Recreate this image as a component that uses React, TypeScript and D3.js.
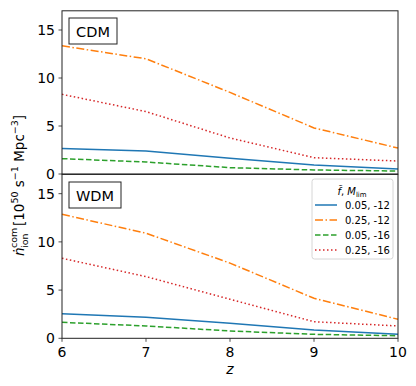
import React from "react";
import * as d3 from "d3";

const zs = [6, 7, 8, 9, 10];
const cdm_005_12 = [2.65, 2.4, 1.63, 0.94, 0.52];
const cdm_025_12 = [13.35, 12.0, 8.5, 4.8, 2.7];
const cdm_005_16 = [1.6, 1.25, 0.66, 0.42, 0.31];
const cdm_025_16 = [8.3, 6.5, 3.75, 1.7, 1.35];
const wdm_005_12 = [2.55, 2.18, 1.55, 0.86, 0.41];
const wdm_025_12 = [12.86, 10.9, 7.8, 4.15, 1.97];
const wdm_005_16 = [1.66, 1.28, 0.76, 0.41, 0.27];
const wdm_025_16 = [8.3, 6.4, 4.05, 1.72, 1.28];
const seriesLabels = ["0.05, -12", "0.25, -12", "0.05, -16", "0.25, -16"];
const colors = ["#1f77b4", "#ff7f0e", "#2ca02c", "#d62728"];
const dashes = ["none", "8,2.5,1.5,2.5", "5.5,2.5", "1.5,2.5"];
const yTicks = [0, 5, 10, 15];
const xTicks = [6, 7, 8, 9, 10];
const panels = [
  { name: "CDM", series: [cdm_005_12, cdm_025_12, cdm_005_16, cdm_025_16] },
  { name: "WDM", series: [wdm_005_12, wdm_025_12, wdm_005_16, wdm_025_16] },
];

const FONT = "DejaVu Sans, sans-serif";

export default function App() {
  const W = 416, H = 386;
  const x = d3.scaleLinear().domain([6, 10]).range([62, 398]);
  const panelY = [
    d3.scaleLinear().domain([0, 17]).range([174, 10.8]),
    d3.scaleLinear().domain([0, 17]).range([338.3, 174.4]),
  ];
  return (
    <svg width={W} height={H} style={{ position: "absolute", left: 0, top: 0 }} fontFamily={FONT}>
      <rect width={W} height={H} fill="white" />
      {panels.map((p, pi) => {
        const y = panelY[pi];
        const line = d3.line<number>().x((_, i) => x(zs[i])).y((v) => y(v));
        const [y0, y1] = y.range();
        return (
          <g key={p.name}>
            {p.series.map((s, si) => (
              <path key={si} d={line(s) || ""} fill="none" stroke={colors[si]} strokeWidth={1.5}
                strokeDasharray={dashes[si]} />
            ))}
            <rect x={62} y={y1} width={336} height={y0 - y1} fill="none" stroke="#222" strokeWidth={1} />
            {yTicks.map((t) => (
              <g key={t}>
                <line x1={58.5} x2={62} y1={y(t)} y2={y(t)} stroke="#222" strokeWidth={0.8} />
                <text x={55} y={y(t)} dy="0.36em" textAnchor="end" fontSize={14}>{t}</text>
              </g>
            ))}
            <rect x={69} y={pi === 0 ? 18 : 182} width={pi === 0 ? 48 : 52} height={26} fill="white" stroke="#222" strokeWidth={1} />
            <text x={pi === 0 ? 93 : 95} y={pi === 0 ? 36.5 : 200.5} textAnchor="middle" fontSize={14.5}>{p.name}</text>
          </g>
        );
      })}
      {xTicks.map((t) => (
        <g key={t}>
          <line x1={x(t)} x2={x(t)} y1={338.3} y2={341.8} stroke="#222" strokeWidth={0.8} />
          <text x={x(t)} y={357} textAnchor="middle" fontSize={14}>{t}</text>
        </g>
      ))}
      <text x={230} y={374} textAnchor="middle" fontSize={14} fontStyle="italic">z</text>
      {/* legend */}
      <g>
        <rect x={312} y={179} width={81} height={80} rx={2.5} fill="white" fillOpacity={0.8} stroke="#ccc" strokeWidth={0.8} />
        <text x={352} y={195} textAnchor="middle" fontSize={10}>
          <tspan fontStyle="italic">f̃</tspan>
          <tspan>,  </tspan>
          <tspan fontStyle="italic">M</tspan>
          <tspan fontSize={7} dy={2}>lim</tspan>
        </text>
        {seriesLabels.map((lab, i) => (
          <g key={lab}>
            <line x1={315} x2={337} y1={205 + i * 15} y2={205 + i * 15} stroke={colors[i]} strokeWidth={1.5} strokeDasharray={dashes[i]} />
            <text x={345} y={205 + i * 15} dy="0.36em" fontSize={10}>{lab}</text>
          </g>
        ))}
      </g>
      {/* y label */}
      <g transform="translate(24,178) rotate(-90)">
        <text x={-78} y={0} fontSize={13.5}>
          <tspan fontStyle="italic">ṅ</tspan>
        </text>
        <text x={-70} y={3.5} fontSize={9.5}>ion</text>
        <text x={-70} y={-7} fontSize={9.5}>com</text>
        <text x={-48} y={0} fontSize={13.5}>
          <tspan>[10</tspan>
          <tspan fontSize={9.5} dy={-6}>50</tspan>
          <tspan dy={6}> s</tspan>
          <tspan fontSize={9.5} dy={-6}>−1</tspan>
          <tspan dy={6}> Mpc</tspan>
          <tspan fontSize={9.5} dy={-6}>−3</tspan>
          <tspan dy={6}>]</tspan>
        </text>
      </g>
    </svg>
  );
}
